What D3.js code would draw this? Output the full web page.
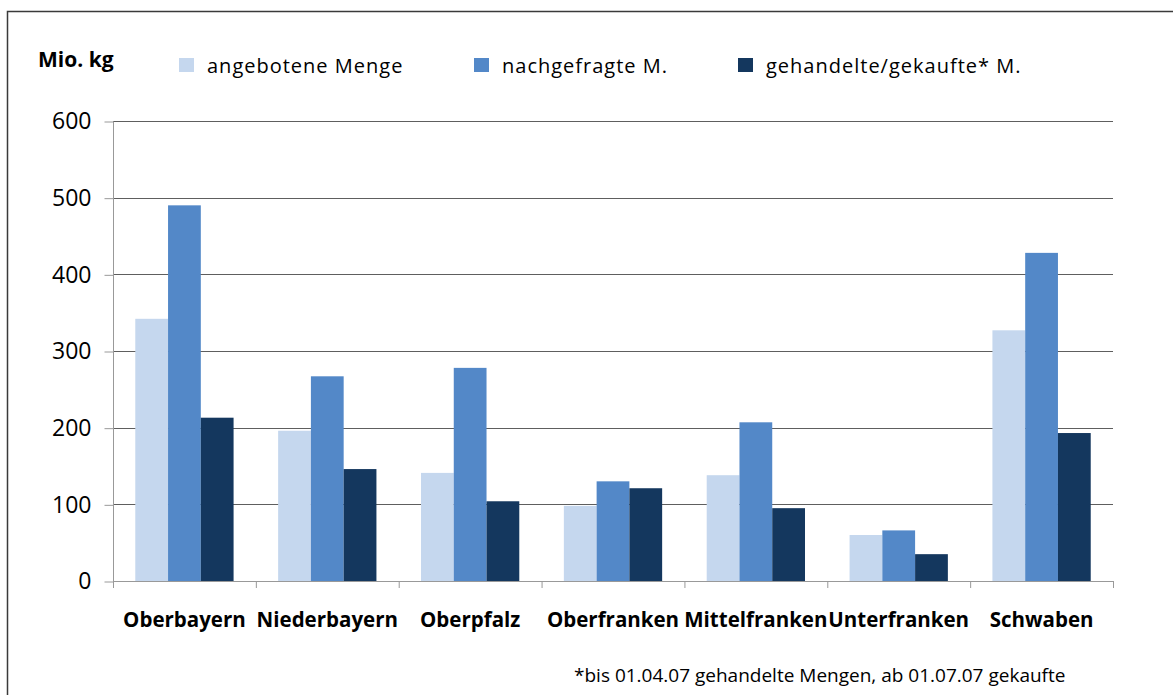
<!DOCTYPE html>
<html><head><meta charset="utf-8">
<script src="https://cdn.jsdelivr.net/npm/d3@7"></script>
<style>body{margin:0;background:#fff}svg{display:block}text{font-family:"Open Sans",sans-serif}</style>
</head><body>
<script>
const categories = ["Oberbayern","Niederbayern","Oberpfalz","Oberfranken","Mittelfranken","Unterfranken","Schwaben"];
const seriesNames = ["angebotene Menge","nachgefragte M.","gehandelte/gekaufte* M."];
const angeboten = [342,196,141,98,138,60,327];
const nachgefragt = [490,267,278,130,207,66,428];
const gehandelt = [213,146,104,121,95,35,193];
const yTicks = [0,100,200,300,400,500,600];
const colors = ["#C5D7EE","#5388C8","#14375E"];
const series = [angeboten, nachgefragt, gehandelt];

const W=1173,H=695;
const svg=d3.select("body").append("svg").attr("width",W).attr("height",H);
svg.append("rect").attr("x",7.5).attr("y",11.5).attr("width",1200).attr("height",700)
  .attr("fill","none").attr("stroke","#3a3a3a").attr("stroke-width",1.5);

const x0=113,x1=1113,yTop=121,yBot=581;
const x=d3.scaleBand().domain(categories).range([x0,x1]).paddingInner(0).paddingOuter(0);
const xs=d3.scaleBand().domain(d3.range(3)).range([0,x.bandwidth()]).paddingInner(0).paddingOuter(0.68);
const y=d3.scaleLinear().domain([0,600]).range([yBot,yTop]);

// gridlines
svg.append("g").selectAll("line").data(yTicks.filter(d=>d>0)).join("line")
  .attr("x1",x0).attr("x2",x1).attr("y1",d=>Math.round(y(d))+0.5).attr("y2",d=>Math.round(y(d))+0.5)
  .attr("stroke","#5e5e5e").attr("stroke-width",1);

// bars
categories.forEach((c,i)=>{
  series.forEach((s,j)=>{
    svg.append("rect").attr("x",x(c)+xs(j)).attr("width",xs.bandwidth())
      .attr("y",y(s[i])).attr("height",yBot-y(s[i])).attr("fill",colors[j]);
  });
});

// y axis
const ya=d3.axisLeft(y).tickValues(yTicks).tickSize(9).tickPadding(13).tickFormat(d3.format("d"));
const gy=svg.append("g").attr("transform",`translate(${x0+0.5},0.5)`).call(ya);
gy.selectAll("path,line").attr("stroke","#999");
gy.select(".domain").attr("d",`M0,${yTop}V${yBot}`);
gy.selectAll("text").attr("font-size",23).attr("fill","#000").attr("font-family","'Open Sans',sans-serif");

// x axis
const xa=d3.axisBottom(x).tickSize(0).tickPadding(31);
const gx=svg.append("g").attr("transform",`translate(0,${yBot+0.5})`).call(xa);
gx.select(".domain").attr("d",`M${x0},0H${x1}`).attr("stroke","#999");
gx.selectAll("text").attr("font-size",20.5).attr("font-weight","bold").attr("fill","#000").attr("font-family","'Open Sans',sans-serif");
svg.append("g").selectAll("line").data(categories.concat([null])).join("line")
  .attr("x1",(d,i)=>x0+i*x.bandwidth()+0.5).attr("x2",(d,i)=>x0+i*x.bandwidth()+0.5)
  .attr("y1",yBot).attr("y2",yBot+7).attr("stroke","#999");

// unit label
svg.append("text").attr("x",38).attr("y",67).attr("font-size",21).attr("font-weight","bold").text("Mio. kg");

// legend
const legX=[179,474,738];
seriesNames.forEach((n,j)=>{
  svg.append("rect").attr("x",legX[j]).attr("y",58).attr("width",15).attr("height",14).attr("fill",colors[j]);
  svg.append("text").attr("x",legX[j]+28).attr("y",73).attr("font-size",20).attr("letter-spacing",1.0).text(n);
});

// footnote
svg.append("text").attr("x",574).attr("y",682).attr("font-size",19).text("*bis 01.04.07 gehandelte Mengen, ab 01.07.07 gekaufte");
</script>
</body></html>
